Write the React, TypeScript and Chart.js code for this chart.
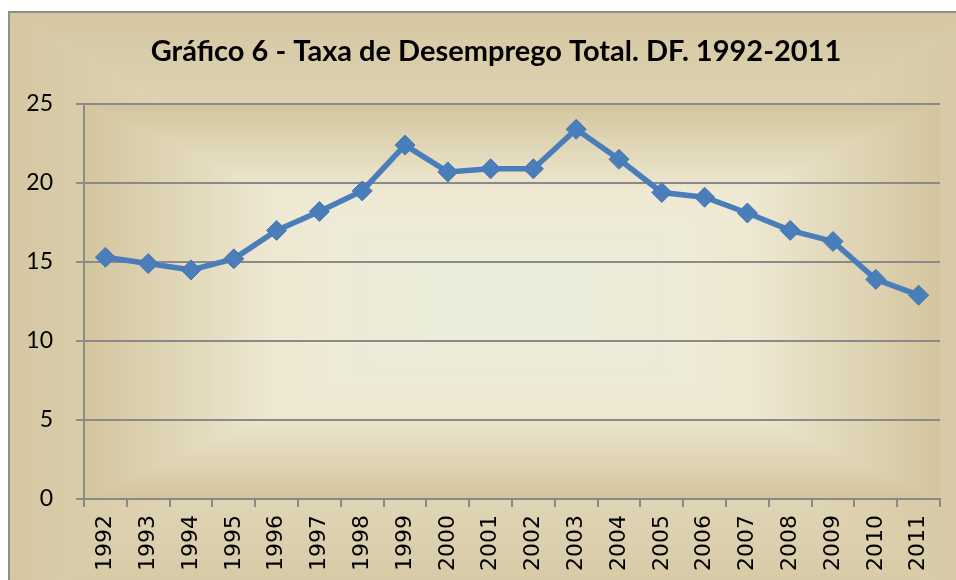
import React, { useEffect, useRef } from "react";
import { Chart, registerables } from "chart.js";

Chart.register(...registerables);

const TITLE = "Gráfico 6 - Taxa de Desemprego Total. DF. 1992-2011";
const years = ["1992","1993","1994","1995","1996","1997","1998","1999","2000","2001","2002","2003","2004","2005","2006","2007","2008","2009","2010","2011"];
const taxa = [15.3, 14.9, 14.5, 15.2, 17.0, 18.2, 19.5, 22.4, 20.7, 20.9, 20.9, 23.4, 21.5, 19.4, 19.1, 18.1, 17.0, 16.3, 13.9, 12.9];
const yTicks = [0, 5, 10, 15, 20, 25];

function rectGradient(ctx: CanvasRenderingContext2D, x0: number, y0: number, x1: number, y1: number, stops: [number, string][]) {
  const cx = (x0 + x1) / 2;
  const cy = (y0 + y1) / 2;
  const tris: [number, number, number, number, number, number, number, number][] = [
    [x0, y0, x1, y0, cx, y0, cx, cy],
    [x1, y0, x1, y1, x1, cy, cx, cy],
    [x1, y1, x0, y1, cx, y1, cx, cy],
    [x0, y1, x0, y0, x0, cy, cx, cy],
  ];
  for (const t of tris) {
    const g = ctx.createLinearGradient(t[4], t[5], t[6], t[7]);
    for (const s of stops) g.addColorStop(s[0], s[1]);
    ctx.fillStyle = g;
    ctx.beginPath();
    ctx.moveTo(t[0], t[1]);
    ctx.lineTo(t[2], t[3]);
    ctx.lineTo(cx, cy);
    ctx.closePath();
    ctx.fill();
    ctx.strokeStyle = g;
    ctx.lineWidth = 0.6;
    ctx.stroke();
  }
}

const bgPlugin = {
  id: "bgPlugin",
  beforeDraw(chart: any) {
    const ctx = chart.ctx as CanvasRenderingContext2D;
    const { left, top, right, bottom } = chart.chartArea;
    ctx.save();
    ctx.fillStyle = "#ffffff";
    ctx.fillRect(0, 0, chart.width, chart.height);
    rectGradient(ctx, 9, 12, 983, 610, [
      [0, "#d5c7a2"],
      [0.6, "#e6ddc1"],
      [1, "#ede6cd"],
    ]);
    rectGradient(ctx, left, top, right, bottom, [
      [0, "#d3c59e"],
      [0.45, "#efe9d3"],
      [1, "#e9eedc"],
    ]);
    ctx.strokeStyle = "#8e8e8e";
    ctx.lineWidth = 2;
    ctx.strokeRect(9, 12, 990, 620);
    ctx.fillStyle = "#000";
    ctx.font = "bold 29px Lato";
    ctx.textAlign = "center";
    ctx.textBaseline = "middle";
    ctx.fillText(TITLE, 496, 52);
    ctx.restore();
  },
};

export default function App() {
  const ref = useRef<HTMLCanvasElement>(null);
  useEffect(() => {
    if (!ref.current) return;
    const chart = new Chart(ref.current, {
      type: "line",
      data: {
        labels: years,
        datasets: [
          {
            data: taxa,
            borderColor: "#4a7ebb",
            backgroundColor: "#4a7ebb",
            borderWidth: 5.5,
            pointStyle: "rectRot",
            pointRadius: 10,
            pointBorderColor: "#4677b3",
            pointBorderWidth: 1,
            pointBackgroundColor: "#4a7ebb",
            tension: 0,
          },
        ],
      },
      options: {
        animation: false,
        responsive: false,
        layout: { padding: { top: 104, right: 16, left: 0, bottom: 0 } },
        plugins: { legend: { display: false }, title: { display: false }, tooltip: { enabled: false } },
        scales: {
          x: {
            type: "category",
            offset: true,
            grid: { offset: true, drawOnChartArea: false, drawTicks: true, tickLength: 8, color: "#8a8a8a", lineWidth: 2 },
            border: { display: true, color: "#8a8a8a", width: 2 },
            ticks: { maxRotation: 90, minRotation: 90, autoSkip: false, padding: 8, color: "#000", font: { family: "DejaVu Sans", size: 22 } },
            afterFit: (s: any) => { s.height = 81; },
          },
          y: {
            min: 0,
            max: 25,
            afterBuildTicks: (s: any) => { s.ticks = yTicks.map((v) => ({ value: v })); },
            grid: { color: "#8a8a8a", lineWidth: 2, tickLength: 8, drawTicks: true },
            border: { display: true, color: "#8a8a8a", width: 2 },
            ticks: { padding: 23, color: "#000", font: { family: "Lato", size: 23 } },
            afterFit: (s: any) => { s.width = 84; },
          },
        },
      },
      plugins: [bgPlugin],
    });
    return () => chart.destroy();
  }, []);
  return (
    <div style={{ position: "absolute", left: 0, top: 0, width: 956, height: 580 }}>
      <canvas ref={ref} width={956} height={580} style={{ width: 956, height: 580, display: "block" }} />
    </div>
  );
}
